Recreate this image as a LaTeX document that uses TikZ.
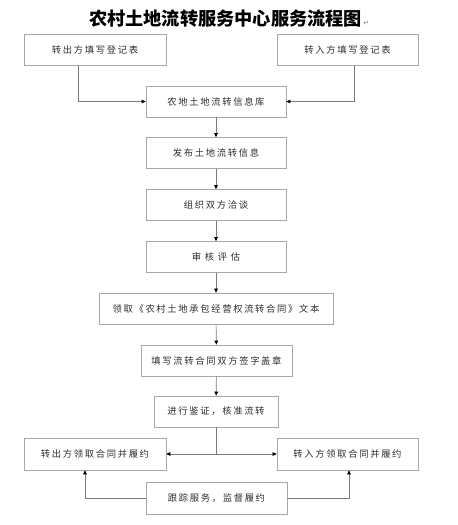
\documentclass[tikz,border=0pt]{standalone}
\usepackage{fontspec}
\usetikzlibrary{arrows.meta}
\newfontfamily\cjk[LetterSpace=18]{Noto Sans CJK SC}
\newfontfamily\cjktitle{Noto Sans CJK SC}
\newfontfamily\symfont{DejaVu Sans}
\definecolor{boxline}{HTML}{A8A8A8}
\definecolor{conn}{HTML}{7A7A7A}
\definecolor{txt}{HTML}{2E2E2E}
\tikzset{
  stepbox/.style={draw=boxline, line width=0.7pt, rectangle, inner sep=0pt,
    minimum height=31pt, text=txt, font=\cjk\fontsize{9.3}{11}\selectfont},
  arr/.style={draw=conn, line width=0.6pt, -{Triangle[length=4pt,width=3.6pt,fill=black,color=black]}},
  ln/.style={draw=conn, line width=0.6pt}
}
\begin{document}
\begin{tikzpicture}[x=1pt,y=-1pt]
\useasboundingbox[fill=white] (0,0) rectangle (458,525);
\node[inner sep=0pt] (title) at (225.5,18.5) {\cjktitle\bfseries\fontsize{18.2}{20}\selectfont 农村土地流转服务中心服务流程图};
\node[anchor=base west, inner sep=0pt, text=gray, xshift=1pt] (mark) at (title.base east) {\symfont\fontsize{7}{8}\selectfont ↵};

\node[stepbox, minimum width=142pt] (b1) at (95,49.5) {转出方填写登记表};
\node[stepbox, minimum width=141pt] (b2) at (347.5,49.5) {转入方填写登记表};
\node[stepbox, minimum width=140pt] (b3) at (216,101.5) {农地土地流转信息库};
\node[stepbox, minimum width=140pt] (b4) at (216,153) {发布土地流转信息};
\node[stepbox, minimum width=140pt] (b5) at (216,205) {组织双方洽谈};
\node[stepbox, minimum width=140pt] (b6) at (216,257) {审 核 评 估};
\node[stepbox, minimum width=234pt] (b7) at (216,308.5) {领取《农村土地承包经营权流转合同》文本};
\node[stepbox, minimum width=151pt] (b8) at (216.5,360.5) {填写流转合同双方签字盖章};
\node[stepbox, minimum width=124pt] (b9) at (216,411.5) {进行鉴证，核准流转};
\node[stepbox, minimum width=142pt, minimum height=32pt] (b10) at (95,454) {转出方领取合同并履约};
\node[stepbox, minimum width=141pt, minimum height=32pt] (b11) at (347.5,454) {转入方领取合同并履约};
\node[stepbox, minimum width=141pt, minimum height=32pt] (b12) at (216.5,498) {跟踪服务，监督履约};

\coordinate (c1) at (78,0);
\coordinate (c2) at (354,0);
\coordinate (c3) at (85,0);
\coordinate (c4) at (349,0);
\coordinate (j) at (216,454);

\draw[arr] (b1.south -| c1) |- (b3.west);
\draw[arr] (b2.south -| c2) |- (b3.east);
\draw[arr] (b3) -- (b4);
\draw[arr] (b4) -- (b5);
\draw[arr] (b5) -- (b6);
\draw[arr] (b6) -- (b7);
\draw[arr] (b7) -- (b8);
\draw[arr] (b8) -- (b9);
\draw[ln] (b9.south) -- (j);
\draw[arr] (j) -- (b10.east);
\draw[arr] (j) -- (b11.west);
\draw[arr] (b12.west) -| (b10.south -| c3);
\draw[arr] (b12.east) -| (b11.south -| c4);
\end{tikzpicture}
\end{document}
